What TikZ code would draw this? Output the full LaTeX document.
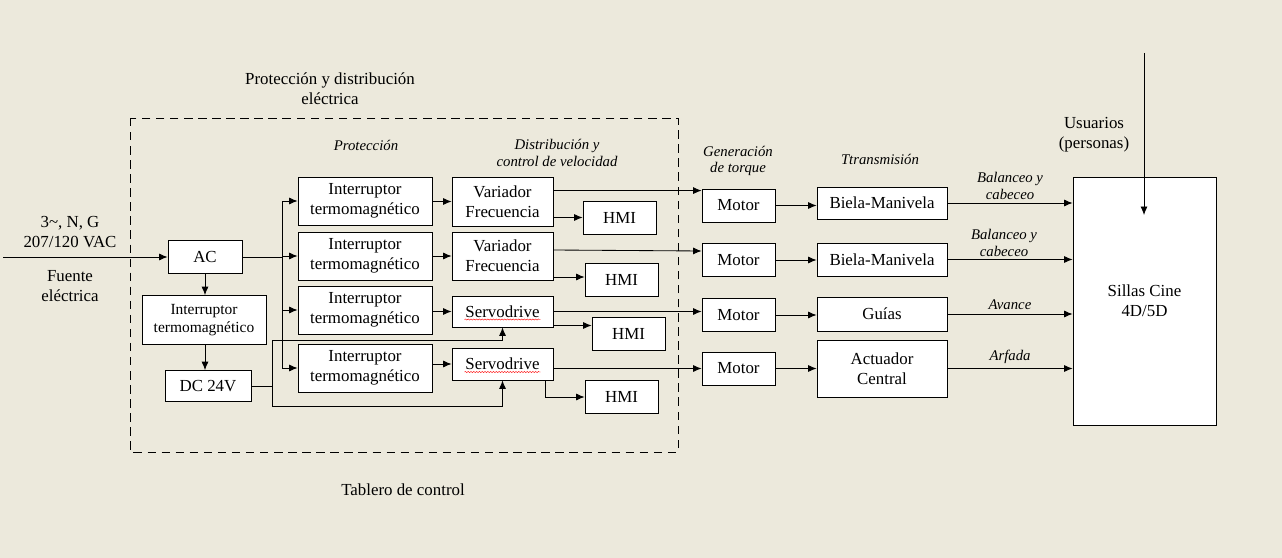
\documentclass[tikz,border=0pt]{standalone}
\usepackage{fontspec}
\setmainfont{Liberation Serif}
\usetikzlibrary{positioning,arrows.meta,decorations.pathmorphing}
\definecolor{paper}{RGB}{236,233,220}

\begin{document}
\begin{tikzpicture}[x=0.025cm, y=-0.025cm, font=\fontsize{12}{14}\selectfont]
    \tikzstyle{block}=[draw, fill=white, line width=0.6pt, inner sep=0pt, align=center]
    \tikzstyle{hmibox}=[block, minimum width=1.825cm, minimum height=0.825cm]
    \tikzstyle{motorbox}=[block, minimum width=1.825cm, minimum height=0.825cm]
    \tikzstyle{breaker}=[block, minimum width=3.35cm, minimum height=1.2cm]
    \tikzstyle{drive}=[block, minimum width=2.525cm]
    \tikzstyle{transbox}=[block, minimum width=3.25cm]
    \tikzstyle{edge}=[-{Latex[length=6pt,width=5pt]}, line width=0.6pt]
    \tikzstyle{wire}=[line width=0.6pt]
    \tikzstyle{tag}=[font=\fontsize{10.5}{12}\selectfont\itshape, align=center]
    \tikzstyle{plain}=[align=center]
    \tikzstyle{squiggle}=[red, line width=0.3pt, decorate, decoration={snake, amplitude=0.4pt, segment length=2pt}]

    \fill[paper] (0,0) rectangle (1282,558);
    \useasboundingbox (0,0) rectangle (1282,558);

    % tablero
    \draw[line width=0.6pt, dash pattern=on 6pt off 4pt] (130,118) rectangle (678,452);
    \node[plain] (tpd) at (330,89) {Protección y distribución\\eléctrica};
    \node[tag] (tprot) at (366,145) {Protección};
    \node[tag] (tdist) at (557,153) {Distribución y\\control de velocidad};
    \node[plain] (ttab) at (403,490) {Tablero de control};

    % fuente
    \node[plain] (src) at (70,232) {3\textasciitilde, N, G\\207/120 VAC};
    \node[plain] (fte) at (70,286) {Fuente\\eléctrica};
    \coordinate (in) at (3,257);

    \node[block, minimum width=1.85cm, minimum height=0.825cm] (ac) at (205,257) {AC};
    \node[block, minimum width=3.1cm, minimum height=1.225cm, font=\fontsize{11}{13}\selectfont] (intL) at (204,320) {Interruptor\\termomagnético};
    \node[block, minimum width=2.15cm, minimum height=0.775cm] (dc) at (208,386) {DC 24V};

    \draw[edge] (in) -- (ac);
    \draw[edge] (ac) -- (ac |- intL.north);
    \draw[edge] (ac |- intL.south) -- (ac |- dc.north);

    % proteccion
    \node[breaker] (int1) at (365,201) {Interruptor\\termomagnético};
    \node[breaker] (int2) at (365,256) {Interruptor\\termomagnético};
    \node[breaker] (int3) at (365,310) {Interruptor\\termomagnético};
    \node[breaker] (int4) at (365,368) {Interruptor\\termomagnético};

    % distribucion
    \node[drive, minimum height=1.225cm] (drv1) at (502.5,201.5) {Variador\\Frecuencia};
    \node[drive, minimum height=1.2cm] (drv2) at (502.5,256) {Variador\\Frecuencia};
    \node[drive, minimum height=0.775cm] (drv3) at (502.5,311.5) {Servodrive};
    \node[drive, minimum height=0.8cm] (drv4) at (502.5,364) {Servodrive};
    \draw[squiggle] ([shift={(-0.95cm,-0.2cm)}]drv3.center) -- ([shift={(0.95cm,-0.2cm)}]drv3.center);
    \draw[squiggle] ([shift={(-0.95cm,-0.2cm)}]drv4.center) -- ([shift={(0.95cm,-0.2cm)}]drv4.center);

    \node[hmibox] (hmi1) at (619.5,217.5) {HMI};
    \node[hmibox] (hmi2) at (621.5,280) {HMI};
    \node[hmibox] (hmi3) at (628.5,333.5) {HMI};
    \node[hmibox] (hmi4) at (621.5,397) {HMI};

    \coordinate (bus) at (282,257);
    \draw[wire] (ac) -- (bus);
    \draw[wire] (bus |- int1) -- (bus |- int4);
    \foreach \i in {1,...,4}{
        \draw[edge] (bus |- int\i) -- (int\i);
        \draw[edge] (drv\i.west -| int\i.east) -- (drv\i.west);
    }

    % 24 V
    \coordinate (dcbus) at (272,386);
    \coordinate (dcup) at (272,340);
    \coordinate (dclo) at (272,406);
    \draw[wire] (dc) -- (dcbus);
    \draw[wire] (dcup) -- (dclo);
    \draw[edge] (dcup) -| (drv3.south);
    \draw[edge] (dclo) -| (drv4.south);

    % HMI
    \draw[edge] (hmi1.west -| drv1.east) -- (hmi1.west);
    \draw[edge] ([yshift=0.075cm]hmi2.west -| drv2.east) -- ([yshift=0.075cm]hmi2.west);
    \draw[edge] ([yshift=0.2cm]hmi3.west -| drv3.east) -- ([yshift=0.2cm]hmi3.west);
    \draw[edge] ([xshift=-0.2cm]drv4.south east) |- (hmi4.west);

    % torque
    \node[tag] (tgen) at (738,161) {Generación\\de torque};
    \node[motorbox] (mot1) at (738.5,205.5) {Motor};
    \node[motorbox] (mot2) at (738.5,260) {Motor};
    \node[motorbox] (mot3) at (738.5,315) {Motor};
    \node[motorbox] (mot4) at (738.5,368.5) {Motor};

    \draw[edge] ([yshift=-0.05cm]drv1.east |- mot1.north) -- ([yshift=-0.05cm]mot1.north west);
    \draw[edge] ([yshift=0.15cm]drv2.east) -- ([yshift=0.225cm]mot2.west);
    \draw[edge] (drv3.east) -- (drv3.east -| mot3.west);
    \draw[edge] (mot4.west -| drv4.east) -- (mot4.west);

    % transmision
    \node[tag] (ttra) at (880,159) {Ttransmisión};
    \node[transbox, minimum height=0.8cm] (tr1) at (882,203) {Biela-Manivela};
    \node[transbox, minimum height=0.825cm] (tr2) at (882,259.5) {Biela-Manivela};
    \node[transbox, minimum height=0.85cm] (tr3) at (882,314) {Guías};
    \node[transbox, minimum height=1.425cm] (tr4) at (882,368.5) {Actuador\\Central};

    \foreach \i in {1,...,4}
        \draw[edge] (mot\i.east) -- (mot\i.east -| tr\i.west);

    % sillas
    \node[block, minimum width=3.575cm, minimum height=6.2cm] (chair) at (1144.5,301) {Sillas Cine\\4D/5D};
    \node[plain] (usr) at (1094,135) {Usuarios\\(personas)};
    \coordinate (usrtop) at (1144,53);
    \coordinate (usrend) at (1144,215);
    \draw[edge] (usrtop) -- (usrend);

    \draw[edge] (tr1.east) -- (tr1.east -| chair.west) node[tag, midway, above, inner sep=2pt] {Balanceo y\\cabeceo};
    \draw[edge] (tr2.east) -- (tr2.east -| chair.west) node[tag, midway, above, inner sep=2pt, xshift=-0.15cm] {Balanceo y\\cabeceo};
    \draw[edge] (tr3.east) -- (tr3.east -| chair.west) node[tag, midway, above, inner sep=3pt] {Avance};
    \draw[edge] (tr4.east) -- (tr4.east -| chair.west) node[tag, midway, above, inner sep=3pt] {Arfada};
\end{tikzpicture}
\end{document}
